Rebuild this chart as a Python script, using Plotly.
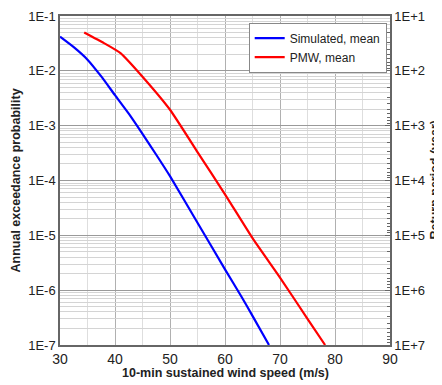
import plotly.graph_objects as go

# Data
sim_speed = [30, 32.5, 35, 37.5, 40, 42.5, 45, 47.5, 50, 55, 60, 63, 65, 68]
sim_prob = [0.042, 0.027, 0.016, 0.0079, 0.0036, 1.66e-3, 7.1e-4, 2.95e-4, 1.2e-4,
            1.7e-5, 2.4e-6, 7.6e-7, 3.4e-7, 1.0e-7]

pmw_speed = [34.4, 38, 41, 45, 50, 55, 60, 65, 70, 75, 78.2]
pmw_prob = [0.050, 0.032, 0.021, 7.8e-3, 1.95e-3, 3.3e-4, 5.6e-5,
            8.9e-6, 1.7e-6, 3.0e-7, 1.0e-7]

x_ticks = [30, 40, 50, 60, 70, 80, 90]
decades_left = [1e-1, 1e-2, 1e-3, 1e-4, 1e-5, 1e-6, 1e-7]
labels_left = ["1E-1", "1E-2", "1E-3", "1E-4", "1E-5", "1E-6", "1E-7"]
decades_right = [1e1, 1e2, 1e3, 1e4, 1e5, 1e6, 1e7]
labels_right = ["1E+1", "1E+2", "1E+3", "1E+4", "1E+5", "1E+6", "1E+7"]

minor_left = [m * 10.0 ** e for e in range(-7, -1) for m in range(2, 10)]
minor_right = [m * 10.0 ** e for e in range(1, 7) for m in range(2, 10)]

font = "Liberation Sans, Arial, sans-serif"

fig = go.Figure()
fig.add_trace(go.Scatter(x=sim_speed, y=sim_prob, mode="lines", name="Simulated, mean",
                         line=dict(color="#0000ff", width=2.2, shape="spline", smoothing=0.5)))
fig.add_trace(go.Scatter(x=pmw_speed, y=pmw_prob, mode="lines", name="PMW, mean",
                         line=dict(color="#ff0000", width=2.2, shape="spline", smoothing=0.5)))
fig.add_trace(go.Scatter(x=[None], y=[None], yaxis="y2", showlegend=False, hoverinfo="skip"))
fig.add_trace(go.Scatter(x=[None], y=[None], yaxis="y3", showlegend=False, hoverinfo="skip"))

# page body adds an 8px margin, so the figure is drawn 8px smaller
fig.update_layout(
    width=434, height=377,
    margin=dict(l=52, r=52, t=8, b=40),
    paper_bgcolor="white", plot_bgcolor="white",
    font=dict(family=font, size=13, color="#222"),
    showlegend=True,
    legend=dict(x=0.99, y=0.98, xanchor="right", yanchor="top",
                bgcolor="white", bordercolor="#888", borderwidth=1,
                font=dict(size=12), tracegroupgap=0),
    xaxis=dict(range=[30, 90], tickvals=x_ticks, showgrid=True, gridcolor="#b0b0b0",
               gridwidth=1, minor=dict(dtick=5, showgrid=True, gridcolor="#dedede"),
               showline=True, linecolor="#666", linewidth=1.5, mirror=True,
               ticks="", tickfont=dict(size=14), automargin=False, zeroline=False),
    yaxis=dict(type="log", range=[-7, -1],
               tickvals=decades_left + minor_left,
               ticktext=labels_left + [""] * len(minor_left),
               showgrid=True, gridcolor="#d4d4d4", gridwidth=1,
               showline=True, linecolor="#666", linewidth=1.5,
               ticks="", tickfont=dict(size=13), automargin=False),
    yaxis2=dict(type="log", range=[7, 1], overlaying="y", side="right",
                tickvals=decades_right, ticktext=labels_right,
                showgrid=True, gridcolor="#9a9a9a", gridwidth=1,
                showline=True, linecolor="#666", linewidth=1.5,
                ticks="inside", ticklen=5, tickcolor="#666",
                tickfont=dict(size=13), automargin=False, zeroline=False),
    yaxis3=dict(type="log", range=[7, 1], overlaying="y", side="right",
                tickvals=minor_right, ticktext=[""] * len(minor_right),
                showgrid=False, showline=False,
                ticks="inside", ticklen=3, tickcolor="#666",
                automargin=False, zeroline=False),
    annotations=[
        dict(text="<b>Return period (year)</b>", xref="paper", yref="paper",
             x=1.0, xshift=44, y=0.5, textangle=-90, showarrow=False,
             font=dict(size=12.5), xanchor="center", yanchor="middle"),
        dict(text="<b>Annual exceedance probability</b>", xref="paper", yref="paper",
             x=0.0, xshift=-45, y=0.5, textangle=-90, showarrow=False,
             font=dict(size=12.5), xanchor="center", yanchor="middle"),
        dict(text="<b>10-min sustained wind speed (m/s)</b>", xref="paper", yref="paper",
             x=0.5, y=0.0, yshift=-28, showarrow=False,
             font=dict(size=12.5), xanchor="center", yanchor="middle"),
    ],
)

fig.write_html("out.html")
